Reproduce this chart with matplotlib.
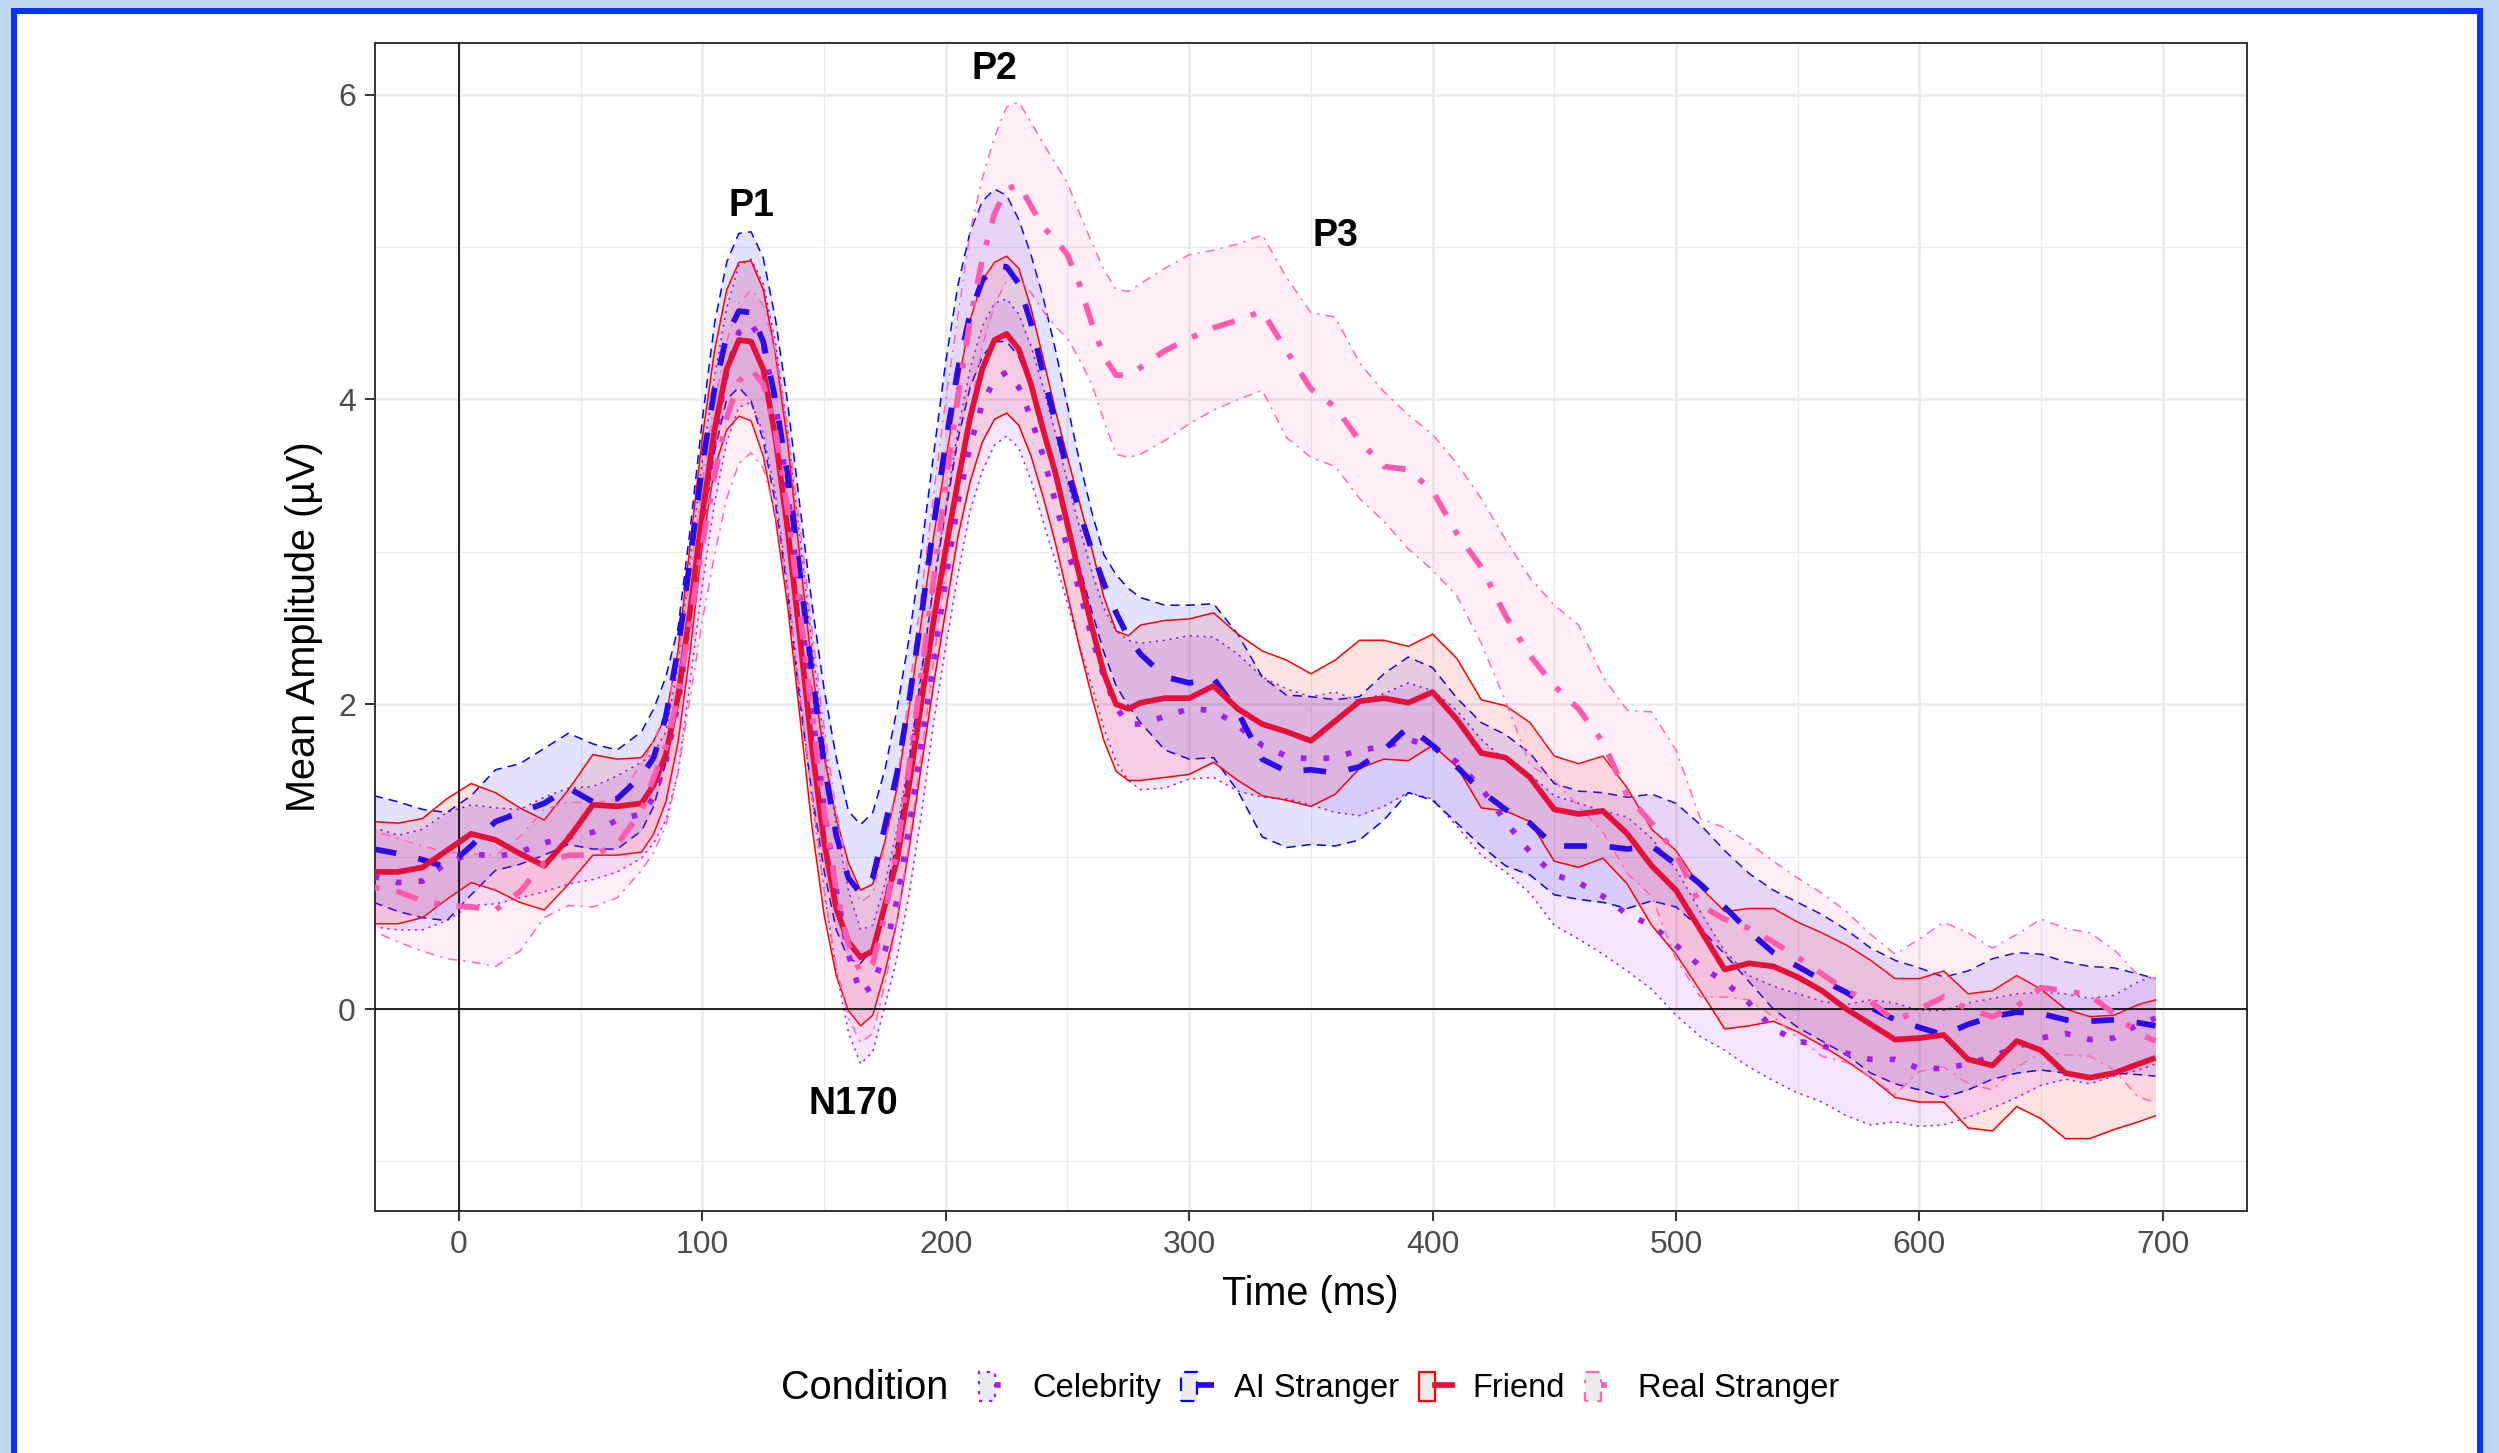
import numpy as np
import matplotlib.pyplot as plt
from matplotlib.patches import Patch, Rectangle
from matplotlib.lines import Line2D
from matplotlib.legend_handler import HandlerTuple

plt.rcParams['font.family'] = ['Liberation Sans', 'DejaVu Sans']

time_ms = [-35, -25, -15, -5, 5, 15, 25, 35, 45, 55, 65, 75,
           80, 85, 90, 95, 100, 105, 110, 115, 120, 125,
           130, 135, 140, 145, 150, 155, 160, 165, 170, 175,
           180, 185, 190, 195, 200, 205, 210, 215, 220, 225,
           230, 235, 240, 245, 250, 255, 260, 265, 270, 275,
           280,
           290, 300, 310, 320, 330, 340, 350, 360, 370, 380,
           390, 400, 410, 420, 430, 440, 450, 460, 470, 480,
           490, 500, 510, 520, 530, 540, 550, 560, 570, 580,
           590, 600, 610, 620, 630, 640, 650, 660, 670, 680,
           690, 697]

celeb_mean = [0.87, 0.83, 0.84, 0.96, 1.02, 1.00, 1.03, 1.09, 1.13, 1.16, 1.24, 1.28,
              1.39, 1.62, 2.00, 2.58, 3.20, 3.75, 4.18, 4.44, 4.50, 4.36,
              3.98, 3.40, 2.70, 1.97, 1.32, 0.78, 0.36, 0.10, 0.15, 0.38,
              0.72, 1.20, 1.75, 2.28, 2.82, 3.32, 3.70, 3.97, 4.13, 4.18,
              4.08, 3.88, 3.63, 3.33, 3.02, 2.74, 2.44, 2.18, 1.98, 1.87,
              1.87,
              1.92, 1.97, 1.96, 1.86, 1.73, 1.66, 1.64, 1.65, 1.70, 1.72,
              1.77, 1.72, 1.62, 1.45, 1.23, 1.03, 0.88, 0.83, 0.74, 0.62,
              0.55, 0.42, 0.28, 0.18, 0.04, -0.13, -0.21, -0.24, -0.29, -0.33,
              -0.33, -0.39, -0.39, -0.36, -0.31, -0.25, -0.19, -0.16, -0.20, -0.19,
              -0.10, -0.06]
celeb_hi = [1.19, 1.14, 1.18, 1.29, 1.34, 1.32, 1.31, 1.39, 1.45, 1.46, 1.53, 1.62,
            1.68, 1.82, 2.25, 2.95, 3.60, 4.15, 4.60, 4.88, 4.92, 4.76,
            4.38, 3.80, 3.10, 2.40, 1.75, 1.20, 0.78, 0.52, 0.55, 0.82,
            1.18, 1.66, 2.22, 2.80, 3.30, 3.80, 4.20, 4.48, 4.63, 4.66,
            4.56, 4.35, 4.08, 3.78, 3.46, 3.16, 2.87, 2.63, 2.48, 2.42,
            2.40,
            2.42, 2.45, 2.44, 2.33, 2.18, 2.10, 2.05, 2.08, 2.02, 2.07,
            2.14, 2.09, 1.96, 1.77, 1.63, 1.54, 1.40, 1.35, 1.30, 1.26,
            1.12, 0.92, 0.64, 0.38, 0.22, 0.15, 0.10, 0.05, 0.03, 0.06,
            0.04, -0.01, -0.01, 0.04, 0.07, 0.10, 0.11, 0.10, 0.07, 0.09,
            0.18, 0.22]
celeb_lo = [0.54, 0.52, 0.52, 0.58, 0.68, 0.69, 0.73, 0.77, 0.82, 0.85, 0.90, 0.99,
            1.09, 1.24, 1.55, 2.15, 2.78, 3.32, 3.72, 3.95, 3.98, 3.78,
            3.38, 2.78, 2.08, 1.38, 0.78, 0.25, -0.15, -0.36, -0.28, 0.02,
            0.34, 0.76, 1.28, 1.88, 2.38, 2.85, 3.27, 3.53, 3.70, 3.76,
            3.68, 3.47, 3.20, 2.94, 2.66, 2.38, 2.12, 1.84, 1.62, 1.50,
            1.44,
            1.45, 1.51, 1.52, 1.43, 1.39, 1.38, 1.34, 1.29, 1.27, 1.33,
            1.42, 1.38, 1.20, 1.01, 0.90, 0.76, 0.55, 0.46, 0.36, 0.25,
            0.13, -0.04, -0.18, -0.27, -0.38, -0.47, -0.55, -0.61, -0.70, -0.76,
            -0.74, -0.77, -0.76, -0.71, -0.65, -0.58, -0.50, -0.46, -0.49, -0.44,
            -0.40, -0.36]

ai_mean = [1.05, 1.02, 0.98, 0.93, 1.07, 1.23, 1.29, 1.35, 1.45, 1.36, 1.38, 1.53,
           1.65, 1.92, 2.36, 2.95, 3.57, 4.07, 4.42, 4.58, 4.57, 4.38,
           4.00, 3.50, 2.87, 2.21, 1.61, 1.14, 0.86, 0.76, 0.86, 1.20,
           1.55, 2.03, 2.58, 3.17, 3.72, 4.20, 4.56, 4.78, 4.88, 4.87,
           4.76, 4.50, 4.17, 3.85, 3.53, 3.26, 3.01, 2.79, 2.60, 2.44,
           2.33,
           2.18, 2.14, 2.17, 1.95, 1.64, 1.56, 1.57, 1.55, 1.59, 1.70,
           1.85, 1.73, 1.59, 1.43, 1.31, 1.22, 1.07, 1.07, 1.07, 1.05,
           1.07, 0.95, 0.82, 0.67, 0.51, 0.37, 0.28, 0.19, 0.11, 0.01,
           -0.07, -0.12, -0.17, -0.10, -0.05, -0.02, -0.03, -0.07, -0.08, -0.07,
           -0.09, -0.11]
ai_hi = [1.40, 1.36, 1.31, 1.29, 1.40, 1.57, 1.61, 1.71, 1.81, 1.74, 1.70, 1.82,
         1.97, 2.18, 2.50, 3.15, 3.87, 4.50, 4.90, 5.09, 5.10, 4.93,
         4.53, 3.98, 3.31, 2.66, 2.10, 1.65, 1.30, 1.21, 1.29, 1.57,
         1.97, 2.44, 3.01, 3.64, 4.25, 4.75, 5.10, 5.30, 5.38, 5.34,
         5.18, 4.95, 4.67, 4.33, 3.96, 3.59, 3.26, 2.98, 2.85, 2.76,
         2.70,
         2.65, 2.65, 2.66, 2.46, 2.18, 2.06, 2.05, 2.03, 2.05, 2.20,
         2.31, 2.24, 2.04, 1.88, 1.80, 1.68, 1.48, 1.43, 1.42, 1.39,
         1.41, 1.35, 1.21, 1.04, 0.89, 0.78, 0.70, 0.62, 0.52, 0.40,
         0.32, 0.27, 0.21, 0.25, 0.33, 0.37, 0.36, 0.31, 0.28, 0.27,
         0.23, 0.20]
ai_lo = [0.70, 0.64, 0.60, 0.58, 0.75, 0.91, 0.95, 1.01, 1.08, 1.05, 1.05, 1.17,
         1.33, 1.62, 2.05, 2.55, 3.17, 3.66, 4.00, 4.08, 3.99, 3.73,
         3.32, 2.74, 2.03, 1.42, 0.91, 0.52, 0.33, 0.30, 0.40, 0.73,
         1.10, 1.62, 2.20, 2.78, 3.27, 3.74, 4.08, 4.28, 4.38, 4.38,
         4.28, 4.09, 3.85, 3.51, 3.20, 2.90, 2.61, 2.34, 2.12, 1.99,
         1.88,
         1.70, 1.64, 1.65, 1.43, 1.13, 1.06, 1.08, 1.07, 1.11, 1.24,
         1.42, 1.37, 1.22, 1.07, 0.94, 0.88, 0.75, 0.72, 0.70, 0.66,
         0.71, 0.67, 0.53, 0.36, 0.18, 0.00, -0.12, -0.21, -0.30, -0.42,
         -0.49, -0.53, -0.58, -0.53, -0.46, -0.42, -0.40, -0.42, -0.44, -0.42,
         -0.43, -0.44]

friend_mean = [0.90, 0.90, 0.93, 1.04, 1.15, 1.11, 1.02, 0.94, 1.12, 1.34, 1.33, 1.35,
               1.47, 1.67, 2.05, 2.62, 3.25, 3.80, 4.20, 4.39, 4.38, 4.20,
               3.75, 3.15, 2.45, 1.72, 1.10, 0.66, 0.44, 0.34, 0.38, 0.68,
               0.98, 1.48, 2.02, 2.55, 3.02, 3.46, 3.88, 4.20, 4.39, 4.43,
               4.33, 4.10, 3.80, 3.52, 3.18, 2.84, 2.51, 2.20, 2.00, 1.97,
               2.01,
               2.04, 2.04, 2.12, 1.97, 1.87, 1.82, 1.76, 1.89, 2.02, 2.04,
               2.01, 2.08, 1.90, 1.68, 1.65, 1.52, 1.31, 1.28, 1.30, 1.15,
               0.94, 0.78, 0.52, 0.26, 0.30, 0.28, 0.21, 0.12, 0.00, -0.10,
               -0.20, -0.19, -0.17, -0.33, -0.37, -0.21, -0.27, -0.42, -0.45, -0.42,
               -0.36, -0.32]
friend_hi = [1.23, 1.22, 1.25, 1.38, 1.48, 1.42, 1.32, 1.24, 1.44, 1.67, 1.64, 1.65,
             1.76, 1.92, 2.35, 3.05, 3.75, 4.32, 4.72, 4.90, 4.91, 4.72,
             4.30, 3.72, 2.97, 2.25, 1.66, 1.25, 0.96, 0.78, 0.82, 1.10,
             1.45, 1.98, 2.55, 3.10, 3.60, 4.10, 4.52, 4.78, 4.90, 4.94,
             4.86, 4.60, 4.27, 3.93, 3.62, 3.32, 3.02, 2.70, 2.48, 2.45,
             2.52,
             2.55, 2.56, 2.60, 2.46, 2.35, 2.29, 2.20, 2.29, 2.42, 2.42,
             2.38, 2.46, 2.30, 2.03, 1.99, 1.88, 1.66, 1.61, 1.66, 1.45,
             1.18, 1.04, 0.80, 0.64, 0.66, 0.66, 0.57, 0.50, 0.42, 0.32,
             0.20, 0.20, 0.25, 0.10, 0.12, 0.22, 0.13, 0.00, -0.05, -0.04,
             0.03, 0.06]
friend_lo = [0.56, 0.56, 0.60, 0.72, 0.83, 0.78, 0.70, 0.65, 0.82, 1.01, 1.01, 1.03,
             1.15, 1.36, 1.75, 2.35, 3.05, 3.55, 3.80, 3.89, 3.86, 3.63,
             3.22, 2.65, 1.93, 1.20, 0.62, 0.22, -0.01, -0.11, -0.04, 0.24,
             0.58, 1.06, 1.60, 2.13, 2.62, 3.10, 3.46, 3.72, 3.87, 3.91,
             3.83, 3.63, 3.36, 3.06, 2.72, 2.37, 2.05, 1.76, 1.56, 1.50,
             1.50,
             1.52, 1.54, 1.62, 1.50, 1.40, 1.37, 1.33, 1.41, 1.58, 1.64,
             1.63, 1.73, 1.59, 1.32, 1.30, 1.23, 0.97, 0.93, 0.99, 0.82,
             0.55, 0.36, 0.12, -0.13, -0.11, -0.08, -0.15, -0.24, -0.34, -0.45,
             -0.58, -0.61, -0.61, -0.78, -0.80, -0.64, -0.72, -0.85, -0.85, -0.79,
             -0.74, -0.70]

real_mean = [0.80, 0.77, 0.71, 0.68, 0.67, 0.65, 0.77, 0.96, 1.01, 1.01, 1.08, 1.30,
             1.52, 1.72, 2.05, 2.55, 3.05, 3.50, 3.88, 4.12, 4.20, 4.10,
             3.80, 3.28, 2.62, 1.93, 1.30, 0.78, 0.42, 0.24, 0.30, 0.62,
             1.05, 1.60, 2.20, 2.82, 3.45, 4.02, 4.52, 4.92, 5.22, 5.38,
             5.41, 5.27, 5.13, 5.05, 4.95, 4.75, 4.50, 4.28, 4.16, 4.16,
             4.21,
             4.32, 4.40, 4.47, 4.52, 4.58, 4.32, 4.07, 3.95, 3.73, 3.56,
             3.54, 3.40, 3.12, 2.90, 2.58, 2.32, 2.12, 1.97, 1.75, 1.40,
             1.22, 1.02, 0.68, 0.59, 0.53, 0.44, 0.34, 0.23, 0.12, 0.05,
             -0.08, 0.00, 0.08, 0.00, -0.05, 0.02, 0.14, 0.12, 0.09, -0.03,
             -0.16, -0.21]
real_hi = [1.17, 1.12, 1.07, 1.03, 1.02, 1.01, 1.13, 1.31, 1.36, 1.35, 1.38, 1.61,
           1.76, 1.95, 2.30, 2.85, 3.45, 3.98, 4.38, 4.63, 4.72, 4.62,
           4.32, 3.82, 3.18, 2.50, 1.85, 1.30, 0.90, 0.70, 0.76, 1.08,
           1.50, 2.08, 2.72, 3.38, 4.00, 4.55, 5.10, 5.45, 5.72, 5.92,
           5.95, 5.82, 5.68, 5.55, 5.42, 5.22, 5.03, 4.85, 4.72, 4.71,
           4.76,
           4.86, 4.95, 4.98, 5.02, 5.08, 4.80, 4.57, 4.54, 4.24, 4.05,
           3.90, 3.77, 3.58, 3.35, 3.08, 2.83, 2.65, 2.52, 2.18, 1.96,
           1.95, 1.70, 1.25, 1.19, 1.09, 0.97, 0.86, 0.76, 0.64, 0.49,
           0.36, 0.46, 0.57, 0.50, 0.40, 0.49, 0.59, 0.53, 0.50, 0.39,
           0.22, 0.20]
real_lo = [0.51, 0.44, 0.38, 0.33, 0.31, 0.28, 0.38, 0.60, 0.68, 0.67, 0.73, 0.91,
           1.03, 1.20, 1.55, 2.05, 2.55, 2.98, 3.35, 3.58, 3.65, 3.55,
           3.25, 2.75, 2.08, 1.40, 0.78, 0.28, -0.06, -0.22, -0.16, 0.16,
           0.58, 1.10, 1.68, 2.28, 2.88, 3.45, 3.92, 4.35, 4.62, 4.78,
           4.80, 4.70, 4.58, 4.48, 4.40, 4.26, 4.10, 3.86, 3.64, 3.62,
           3.64,
           3.73, 3.84, 3.93, 4.00, 4.06, 3.75, 3.62, 3.56, 3.35, 3.20,
           3.02, 2.88, 2.71, 2.40, 2.02, 1.60, 1.50, 1.33, 1.16, 0.89,
           0.74, 0.33, 0.08, 0.08, 0.06, -0.05, -0.19, -0.31, -0.35, -0.45,
           -0.56, -0.41, -0.38, -0.49, -0.53, -0.38, -0.29, -0.30, -0.31, -0.40,
           -0.58, -0.61]

conditions = ['Celebrity', 'AI Stranger', 'Friend', 'Real Stranger']
peak_labels = ['P1', 'N170', 'P2', 'P3']
peak_x = [120, 162, 220, 360]
peak_y = [5.27, -0.62, 6.17, 5.07]

series = {
    'Celebrity': (celeb_mean, celeb_lo, celeb_hi),
    'AI Stranger': (ai_mean, ai_lo, ai_hi),
    'Friend': (friend_mean, friend_lo, friend_hi),
    'Real Stranger': (real_mean, real_lo, real_hi),
}
# fill colour, line colour, mean dashes, edge dashes
styles = {
    'Celebrity': ('#A020F0', '#A020F0', (1, 3), (1.5, 3)),
    'AI Stranger': ('#0000FF', '#2A0BE6', (4, 4), (6, 4)),
    'Friend': ('#FF0000', '#E3103A', None, None),
    'Real Stranger': ('#FF69B4', '#FF5AAE', (1, 3, 4, 3), (1.5, 4, 6, 4)),
}

W, H = 2499, 1453
fig = plt.figure(figsize=(W / 100, H / 100), dpi=100)
fig.patch.set_facecolor('#BDD7EE')
fig.patches.append(Rectangle((11 / W, 0), (2483 - 11) / W, 1 - 8 / H, transform=fig.transFigure,
                             facecolor='#0A33FF', edgecolor='none', zorder=-2))
fig.patches.append(Rectangle((17 / W, 0), (2477 - 17) / W, 1 - 14 / H, transform=fig.transFigure,
                             facecolor='white', edgecolor='none', zorder=-1))

ax = fig.add_axes([374.5 / W, 1 - 1211 / H, (2247 - 374.5) / W, (1211 - 43) / H])
t = np.array(time_ms)

for cond in conditions:
    mean, lo, hi = series[cond]
    fill_c, line_c, d_mean, d_edge = styles[cond]
    ax.fill_between(t, lo, hi, color=fill_c, alpha=0.11, lw=0, zorder=2)
    for edge in (lo, hi):
        ln, = ax.plot(t, edge, color=fill_c, lw=1.1, zorder=2, solid_joinstyle='round')
        if d_edge:
            ln.set_dashes(d_edge)

ax.axhline(0, color='black', lw=1.2, zorder=3)
ax.axvline(0, color='black', lw=1.2, zorder=3)

for cond in conditions:
    mean, lo, hi = series[cond]
    fill_c, line_c, d_mean, d_edge = styles[cond]
    ln, = ax.plot(t, mean, color=line_c, lw=4.1, zorder=4,
                  solid_joinstyle='round', dash_joinstyle='round', solid_capstyle='butt')
    if d_mean:
        ln.set_dashes(d_mean)

for lab, x, y in zip(peak_labels, peak_x, peak_y):
    ax.text(x, y, lab, ha='center', va='center', fontsize=27, fontweight='bold', zorder=5)

ax.set_xlim(-34.7, 734.6)
ax.set_ylim(-1.325, 6.339)
ax.set_xticks(range(0, 701, 100))
ax.set_xticks(range(50, 700, 100), minor=True)
ax.set_yticks([0, 2, 4, 6])
ax.set_yticks([-1, 1, 3, 5], minor=True)
ax.grid(which='major', color='#EBEBEB', lw=1.9)
ax.grid(which='minor', color='#EBEBEB', lw=0.95)
ax.set_axisbelow(True)
ax.tick_params(which='major', length=7.5, width=1.4, color='#333333',
               labelsize=23, labelcolor='#4D4D4D', pad=6)
ax.tick_params(which='minor', length=0)
for sp in ax.spines.values():
    sp.set_color('#333333')
    sp.set_linewidth(1.4)

ax.set_xlabel('Time (ms)', fontsize=28.5, labelpad=11)
ax.set_ylabel('Mean Amplitude (µV)', fontsize=28.5, labelpad=11)

handles = []
for cond in conditions:
    fill_c, line_c, d_mean, d_edge = styles[cond]
    p = Patch(facecolor='#EBEBEB', edgecolor=fill_c, lw=1.6,
              linestyle=(0, d_edge) if d_edge else '-')
    l = Line2D([], [], color=line_c, lw=4.1)
    if d_mean:
        l.set_dashes(d_mean)
    handles.append((p, l))

fig.text(781 / W, 1 - 1388 / H, 'Condition', fontsize=28.5, va='center', ha='left')
ax.legend(handles, conditions, handler_map={tuple: HandlerTuple(ndivide=None, pad=0)},
          ncol=4, frameon=False, fontsize=23.5, handlelength=1.0, handleheight=1.0,
          handletextpad=0.62, columnspacing=0.62, borderpad=0, borderaxespad=0,
          loc='center', bbox_to_anchor=(1409 / W, 1 - 1388 / H),
          bbox_transform=fig.transFigure)

fig.savefig('out.png', dpi=100, facecolor=fig.get_facecolor())
